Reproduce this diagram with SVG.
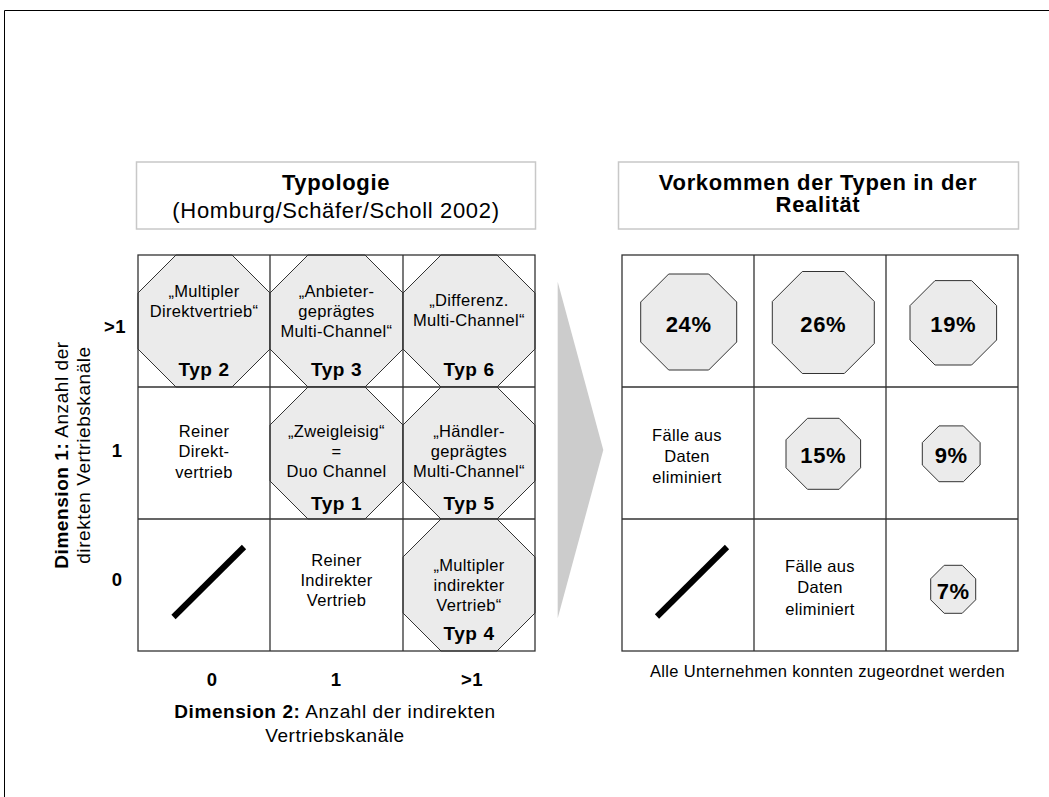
<svg xmlns="http://www.w3.org/2000/svg" width="1049" height="797" viewBox="0 0 1049 797">
  <style>
    text { font-family: "Liberation Sans", Arial, Helvetica, sans-serif; fill: #000; letter-spacing: 0.02em; }
    .t { font-size: 16.5px; text-anchor: middle; }
    .b { font-weight: bold; }
    .typ { font-size: 19px; font-weight: bold; text-anchor: middle; letter-spacing: 0.03em; }
    .hd { font-size: 22px; text-anchor: middle; letter-spacing: 0.03em; }
    .pct { font-size: 22px; font-weight: bold; text-anchor: middle; letter-spacing: 0.03em; }
    .ax { font-size: 18.5px; font-weight: bold; text-anchor: middle; }
    .dim { font-size: 19px; text-anchor: middle; letter-spacing: 0.03em; }
    .grid { fill: none; stroke: #333; stroke-width: 1.3; }
    .oct { fill: #ebebeb; stroke: #333; stroke-width: 1; }
    .hbox { fill: #fff; stroke: #c8c8c8; stroke-width: 1.5; }
    .slash { stroke: #000; stroke-width: 6; }
  </style>

  <!-- page frame -->
  <path d="M1049,10.5 H4.5 V797" fill="none" stroke="#000" stroke-width="1"/>

  <!-- headers -->
  <g id="header-typologie">
    <rect class="hbox" x="136.5" y="162" width="399" height="67"/>
    <text class="hd b" x="336" y="190">Typologie</text>
    <text class="hd" x="336" y="218">(Homburg/Schäfer/Scholl 2002)</text>
  </g>
  <g id="header-vorkommen">
    <rect class="hbox" x="618.5" y="162" width="400" height="67"/>
    <text class="hd b" x="818" y="189.5">Vorkommen der Typen in der</text>
    <text class="hd b" x="818" y="212">Realität</text>
  </g>

  <!-- left matrix: types -->
  <g id="typ2">
    <polygon class="oct" points="176,255 232,255 270,293 270,349 232,387 176,387 138,349 138,293"/>
    <text class="t" x="204" y="297">„Multipler</text>
    <text class="t" x="204" y="316.5">Direktvertrieb“</text>
    <text class="typ" x="204" y="376">Typ 2</text>
  </g>
  <g id="typ3">
    <polygon class="oct" points="308,255 365,255 403,293 403,349 365,387 308,387 270,349 270,293"/>
    <text class="t" x="336.5" y="297">„Anbieter-</text>
    <text class="t" x="336.5" y="317">geprägtes</text>
    <text class="t" x="336.5" y="337">Multi-Channel“</text>
    <text class="typ" x="336.5" y="376">Typ 3</text>
  </g>
  <g id="typ6">
    <polygon class="oct" points="441,255 497,255 535,293 535,349 497,387 441,387 403,349 403,293"/>
    <text class="t" x="469" y="306">„Differenz.</text>
    <text class="t" x="469" y="326">Multi-Channel“</text>
    <text class="typ" x="469" y="376">Typ 6</text>
  </g>
  <g id="reiner-direktvertrieb">
    <text class="t" x="204" y="437">Reiner</text>
    <text class="t" x="204" y="457">Direkt-</text>
    <text class="t" x="204" y="477.5">vertrieb</text>
  </g>
  <g id="typ1">
    <polygon class="oct" points="308,387 365,387 403,425 403,481 365,519 308,519 270,481 270,425"/>
    <text class="t" x="336.5" y="437">„Zweigleisig“</text>
    <text class="t" x="336.5" y="457">=</text>
    <text class="t" x="336.5" y="477">Duo Channel</text>
    <text class="typ" x="336.5" y="509.5">Typ 1</text>
  </g>
  <g id="typ5">
    <polygon class="oct" points="441,387 497,387 535,425 535,481 497,519 441,519 403,481 403,425"/>
    <text class="t" x="469" y="437">„Händler-</text>
    <text class="t" x="469" y="457">geprägtes</text>
    <text class="t" x="469" y="477">Multi-Channel“</text>
    <text class="typ" x="469" y="509.5">Typ 5</text>
  </g>
  <g id="leer-links">
    <line class="slash" x1="173.5" y1="617" x2="244" y2="547"/>
  </g>
  <g id="reiner-indirekter-vertrieb">
    <text class="t" x="336.5" y="566">Reiner</text>
    <text class="t" x="336.5" y="586">Indirekter</text>
    <text class="t" x="336.5" y="606">Vertrieb</text>
  </g>
  <g id="typ4">
    <polygon class="oct" points="441,519 497,519 535,557 535,613 497,651 441,651 403,613 403,557"/>
    <text class="t" x="469" y="571">„Multipler</text>
    <text class="t" x="469" y="591">indirekter</text>
    <text class="t" x="469" y="611">Vertrieb“</text>
    <text class="typ" x="469" y="640">Typ 4</text>
  </g>
  <g id="grid-links">
    <rect class="grid" x="138" y="255" width="397" height="396"/>
    <path class="grid" d="M270,255 V651 M403,255 V651 M138,387 H535 M138,519 H535"/>
  </g>

  <!-- axis labels -->
  <g id="achse-dimension1">
    <text class="ax" x="115" y="333">&gt;1</text>
    <text class="ax" x="117" y="457">1</text>
    <text class="ax" x="117" y="586">0</text>
    <text class="dim" transform="translate(68,455) rotate(-90)"><tspan class="b">Dimension 1:</tspan> Anzahl der</text>
    <text class="dim" transform="translate(90,455) rotate(-90)">direkten Vertriebskanäle</text>
  </g>
  <g id="achse-dimension2">
    <text class="ax" x="212" y="686">0</text>
    <text class="ax" x="336" y="686">1</text>
    <text class="ax" x="472" y="686">&gt;1</text>
    <text class="dim" x="335" y="718"><tspan class="b">Dimension 2:</tspan> Anzahl der indirekten</text>
    <text class="dim" x="335" y="741.5">Vertriebskanäle</text>
  </g>

  <!-- transition arrow -->
  <g id="connectors">
    <polygon points="557.7,281.7 603.3,450 557.7,618.3" fill="#cccccc"/>
  </g>

  <!-- right matrix: observed shares -->
  <g id="anteil-typ2">
    <polygon class="oct" points="668.7,274 708.7,274 736.7,302 736.7,342 708.7,370 668.7,370 640.7,342 640.7,302"/>
    <text class="pct" x="688.7" y="331.5">24%</text>
  </g>
  <g id="anteil-typ3">
    <polygon class="oct" points="802.3,271.5 844.3,271.5 874.3,301.5 874.3,343.5 844.3,373.5 802.3,373.5 772.3,343.5 772.3,301.5"/>
    <text class="pct" x="823.3" y="332">26%</text>
  </g>
  <g id="anteil-typ6">
    <polygon class="oct" points="935,280.6 971.6,280.6 996.6,305.6 996.6,340 971.6,365 935,365 910,340 910,305.6"/>
    <text class="pct" x="953.3" y="332">19%</text>
  </g>
  <g id="eliminiert-direkt">
    <text class="t" x="687" y="441">Fälle aus</text>
    <text class="t" x="687" y="462">Daten</text>
    <text class="t" x="687" y="483">eliminiert</text>
  </g>
  <g id="anteil-typ1">
    <polygon class="oct" points="807.5,418.3 839.1,418.3 860.6,439.8 860.6,467.8 839.1,489.3 807.5,489.3 786,467.8 786,439.8"/>
    <text class="pct" x="823.3" y="463.3">15%</text>
  </g>
  <g id="anteil-typ5">
    <polygon class="oct" points="939,425.9 963.4,425.9 980.1,442.6 980.1,465 963.4,481.7 939,481.7 922.3,465 922.3,442.6"/>
    <text class="pct" x="951.2" y="463.3">9%</text>
  </g>
  <g id="leer-rechts">
    <line class="slash" x1="657" y1="616.5" x2="727" y2="547"/>
  </g>
  <g id="eliminiert-indirekt">
    <text class="t" x="820" y="571.5">Fälle aus</text>
    <text class="t" x="820" y="593">Daten</text>
    <text class="t" x="820" y="614.5">eliminiert</text>
  </g>
  <g id="anteil-typ4">
    <polygon class="oct" points="944.2,565.3 962.2,565.3 975.7,578.8 975.7,599.8 962.2,613.3 944.2,613.3 930.7,599.8 930.7,578.8"/>
    <text class="pct" x="953.2" y="599.3">7%</text>
  </g>
  <g id="grid-rechts">
    <rect class="grid" x="622" y="255" width="396" height="396"/>
    <path class="grid" d="M754,255 V651 M886,255 V651 M622,387 H1018 M622,519 H1018"/>
  </g>
  <g id="fussnote">
    <text class="t" x="827.5" y="677">Alle Unternehmen konnten zugeordnet werden</text>
  </g>
</svg>
